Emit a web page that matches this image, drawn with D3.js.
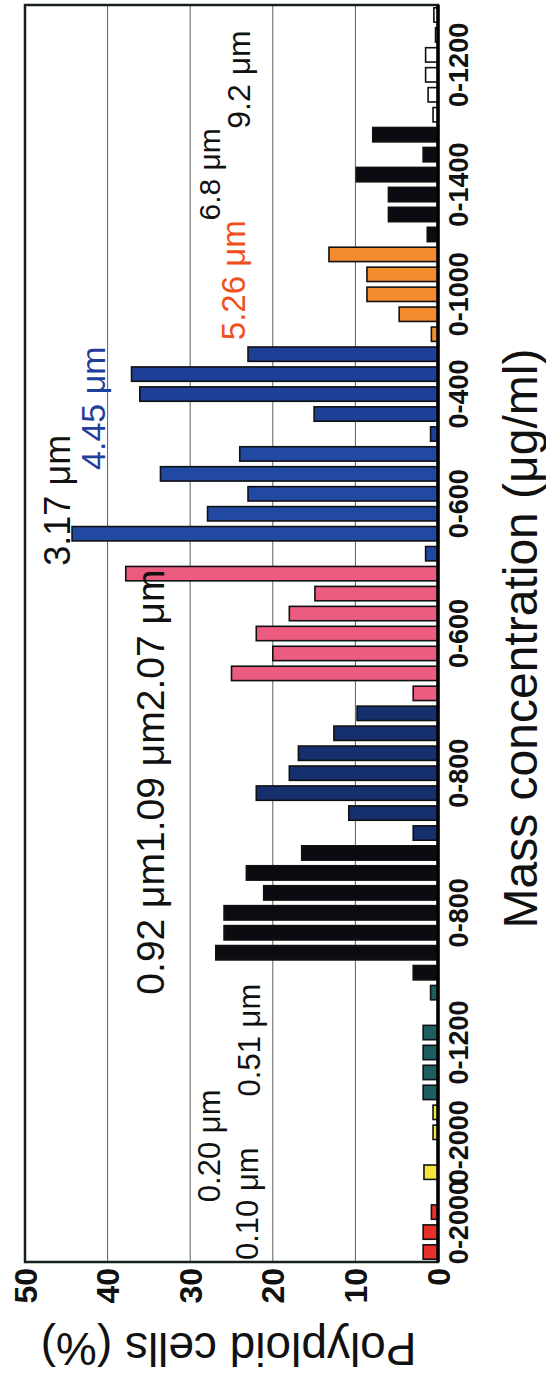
<!DOCTYPE html>
<html>
<head>
<meta charset="utf-8">
<title>Polyploid cells</title>
<script src="https://cdn.jsdelivr.net/npm/d3@7"></script>
<style>
	body { margin: 0; background: white; }
	svg text { font-family: "Liberation Sans", Arial, Helvetica, sans-serif; fill: #111; }
	.grid line { stroke: #55645a; stroke-width: 1px; }
	.bar { stroke: #111; stroke-width: 1.6px; }
	.tick_label { font-size: 32px; font-weight: bold; }
	.cat_label { font-size: 27px; font-weight: bold; }
</style>
</head>
<body>
<svg id="chart"></svg>
<script>

	// particle size groups, bottom to top in the picture
	var sizes = [ "0.10 μm", "0.20 μm", "0.51 μm", "0.92 μm", "1.09 μm", "2.07 μm",
		"3.17 μm", "4.45 μm", "5.26 μm", "6.8 μm", "9.2 μm" ]
	var ranges = [ "0-2000", "0-2000", "0-1200", "0-800", "0-800", "0-600",
		"0-600", "0-400", "0-1000", "0-1400", "0-1200" ]
	var colors = [ "#e8302a", "#f6e43c", "#1d5e60", "#0b0b12", "#16306e", "#ec5c80",
		"#2149a2", "#1e3f96", "#f28c2e", "#0b0b12", "#ffffff" ]

	// polyploid cells (%) per bar, one list per group
	var values = [
		[ 1.8, 1.8, 0.8, 0 ],
		[ 1.7, 0, 0.6, 0.6 ],
		[ 1.8, 1.8, 1.8, 1.8, 0, 0.9 ],
		[ 3.0, 26.9, 25.9, 25.9, 21.1, 23.2, 16.5 ],
		[ 3.0, 10.8, 22.0, 18.0, 16.9, 12.6, 9.8 ],
		[ 3.0, 25.0, 20.0, 22.0, 18.0, 14.9, 37.8 ],
		[ 1.5, 44.3, 27.9, 23.0, 33.6, 24.0 ],
		[ 0.9, 15.0, 36.1, 37.1, 23.0 ],
		[ 0.8, 4.7, 8.6, 8.6, 13.2 ],
		[ 1.3, 6.0, 6.0, 9.9, 1.8, 7.9 ],
		[ 0.6, 1.2, 1.5, 1.5, 0.3, 0.5 ]
	]

	var yTicks = [ 0, 10, 20, 30, 40, 50 ]
	var yTitle = "Polyploid cells (%)"
	var xTitle = "Mass concentration (μg/ml)"

	// size annotations: text, which bar slot it starts at, value height of its baseline
	var notes = [
		{ text: "0.10 μm", slot: 0.1, value: 21.8, color: "#111" },
		{ text: "0.20 μm", slot: 3.0, value: 26.4, color: "#111" },
		{ text: "0.51 μm", slot: 8.3, value: 21.5, color: "#111" },
		{ text: "0.92 μm1.09 μm2.07 μm", slot: 13.4, value: 33.2, color: "#111" },
		{ text: "3.17 μm", slot: 34.9, value: 44.5, color: "#111" },
		{ text: "4.45 μm", slot: 39.7, value: 40.3, color: "#1f3f9a" },
		{ text: "5.26 μm", slot: 46.2, value: 23.4, color: "#f05020" },
		{ text: "6.8 μm", slot: 52.2, value: 26.4, color: "#111" },
		{ text: "9.2 μm", slot: 56.8, value: 22.8, color: "#111" }
	]
	var noteSizes = [ 31, 31, 31, 39, 36, 34, 33, 30, 32 ]

	// flatten to one bar per slot
	var bars = []
	values.forEach( function( g, gi ) {
		g.forEach( function( v ) {
			bars.push( { group: gi, value: v, slot: bars.length } )
		} )
	} )

	var W = 546, H = 1375
	// chart is drawn upright and turned a quarter turn to the left
	var plot = { left: 113, right: 1370, top: 25, bottom: 438 }

	var svg = d3.select( "#chart" ).attr( "width", W ).attr( "height", H )
	var g = svg.append( "g" ).attr( "transform", "translate(0," + H + ") rotate(-90)" )

	var x = d3.scaleBand()
		.domain( d3.range( bars.length ) )
		.range( [ plot.left, plot.right ] )
		.paddingInner( 0.28 )
		.paddingOuter( 0.14 )
	var step = ( plot.right - plot.left ) / bars.length
	var slotPos = s => plot.left + s * step

	var y = d3.scaleLinear().domain( [ 0, 50 ] ).range( [ plot.bottom, plot.top ] )

	g.append( "g" ).attr( "class", "grid" )
		.selectAll( "line" )
		.data( yTicks.filter( d => d > 0 && d < 50 ) ).enter().append( "line" )
			.attr( "x1", plot.left ).attr( "x2", plot.right )
			.attr( "y1", d => y( d ) ).attr( "y2", d => y( d ) )

	g.selectAll( "rect.bar" )
		.data( bars ).enter().append( "rect" )
			.attr( "class", "bar" )
			.attr( "x", d => x( d.slot ) )
			.attr( "width", x.bandwidth() )
			.attr( "y", d => y( d.value ) )
			.attr( "height", d => y( 0 ) - y( d.value ) )
			.attr( "fill", d => colors[ d.group ] )

	// frame
	g.append( "rect" )
		.attr( "x", plot.left ).attr( "y", plot.top )
		.attr( "width", plot.right - plot.left ).attr( "height", plot.bottom - plot.top )
		.attr( "fill", "none" ).attr( "stroke", "#16221b" ).attr( "stroke-width", 2.5 )
	g.append( "line" )
		.attr( "x1", plot.left ).attr( "x2", plot.right )
		.attr( "y1", plot.bottom ).attr( "y2", plot.bottom )
		.attr( "stroke", "#000" ).attr( "stroke-width", 3.5 )

	// value axis labels
	g.selectAll( "text.tick_label" )
		.data( yTicks ).enter().append( "text" )
			.attr( "class", "tick_label" )
			.attr( "x", plot.left - 6 )
			.attr( "y", d => y( d ) )
			.attr( "dy", "0.36em" )
			.attr( "text-anchor", "end" )
			.text( d => d )

	g.append( "text" )
		.attr( "transform", "translate(42," + ( ( plot.top + plot.bottom ) / 2 - 3 ) + ") rotate(-90)" )
		.attr( "text-anchor", "middle" )
		.style( "font-size", "46px" )
		.text( yTitle )

	// group range labels under the bars
	var groupCenter = function( gi ) {
		var members = bars.filter( b => b.group == gi )
		return ( x( members[ 0 ].slot ) + x( members[ members.length - 1 ].slot ) + x.bandwidth() ) / 2
	}
	g.selectAll( "text.cat_label" )
		.data( ranges ).enter().append( "text" )
			.attr( "class", "cat_label" )
			.attr( "x", ( d, i ) => groupCenter( i ) )
			.attr( "y", plot.bottom + 30 )
			.attr( "text-anchor", "middle" )
			.text( d => d )

	g.append( "text" )
		.attr( "x", ( plot.left + plot.right ) / 2 - 5 )
		.attr( "y", 537 )
		.attr( "text-anchor", "middle" )
		.style( "font-size", "48px" )
		.text( xTitle )

	g.selectAll( "text.note" )
		.data( notes ).enter().append( "text" )
			.attr( "class", "note" )
			.attr( "x", d => slotPos( d.slot ) )
			.attr( "y", d => y( d.value ) )
			.style( "font-size", ( d, i ) => noteSizes[ i ] + "px" )
			.style( "fill", d => d.color )
			.text( d => d.text )

</script>
</body>
</html>
